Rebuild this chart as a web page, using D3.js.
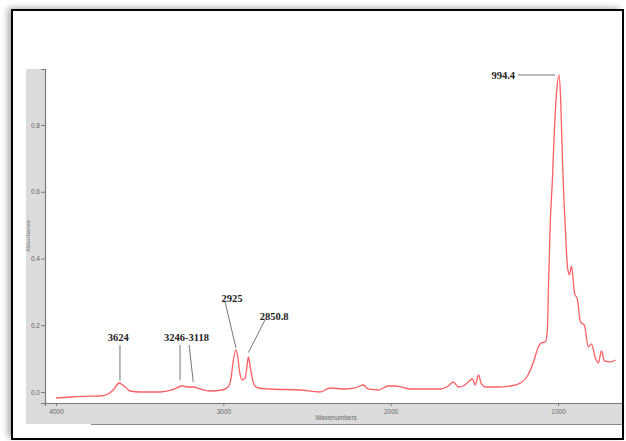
<!DOCTYPE html>
<html>
<head>
<meta charset="utf-8">
<script src="https://cdn.jsdelivr.net/npm/d3@7"></script>
<style>
  html, body { margin: 0; padding: 0; background: #fff; }
  svg { display: block; }
</style>
</head>
<body>
<svg id="chart" width="626" height="441"></svg>
<script>
// FTIR absorbance spectrum (wavenumber in cm-1, absorbance)
const wavenumbers = [4000, 3916, 3827, 3737, 3689, 3653, 3624, 3594, 3558, 3498, 3378, 3307,
  3246, 3217, 3180, 3139, 3080, 3008, 2972, 2954, 2942, 2925, 2914, 2903, 2888, 2870, 2858,
  2850.8, 2838, 2816, 2792, 2721, 2541, 2422, 2362, 2272, 2213, 2165, 2135, 2075, 2015, 1973,
  1884, 1704, 1656, 1626, 1596, 1566, 1530, 1512, 1494, 1476, 1458, 1434, 1375, 1285, 1225,
  1183, 1147, 1118, 1100, 1076, 1064, 1058, 1046, 1034, 1022, 1010, 994.4, 984, 974, 965, 956,
  944, 932, 920, 902, 884, 866, 843, 819, 801, 777, 759, 741, 723, 687, 657];
const absorbance = [-0.018, -0.015, -0.013, -0.012, -0.006, 0.009, 0.027, 0.018, 0.003, 0.0, 0.0, 0.006,
  0.018, 0.015, 0.015, 0.009, 0.003, 0.006, 0.015, 0.042, 0.09, 0.126, 0.105, 0.06, 0.036, 0.042, 0.081,
  0.105, 0.07, 0.021, 0.012, 0.009, 0.006, 0.0, 0.012, 0.009, 0.012, 0.021, 0.009, 0.006, 0.018, 0.018,
  0.009, 0.009, 0.018, 0.030, 0.015, 0.018, 0.033, 0.039, 0.021, 0.051, 0.024, 0.015, 0.015, 0.018, 0.027,
  0.048, 0.09, 0.135, 0.147, 0.150, 0.186, 0.306, 0.515, 0.635, 0.785, 0.89, 0.95, 0.87, 0.695, 0.575, 0.485,
  0.375, 0.351, 0.378, 0.297, 0.276, 0.21, 0.20, 0.135, 0.144, 0.102, 0.087, 0.123, 0.093, 0.090, 0.096];

const xTicks = [4000, 3000, 2000, 1000];
const yTicks = [0.0, 0.2, 0.4, 0.6, 0.8];
const xTitle = "Wavenumbers";
const yTitle = "Absorbance";

// Peak call-outs: label text, label anchor (wavenumber, absorbance), pointer segments
const callouts = [
  { text: "3624", lx: 3629, ly: 0.165, pointers: [[3618, 0.141, 3618, 0.034]] },
  { text: "3246-3118", lx: 3220, ly: 0.165, pointers: [[3259, 0.141, 3259, 0.036], [3205, 0.141, 3180, 0.030]] },
  { text: "2925", lx: 2948, ly: 0.282, pointers: [[2990, 0.270, 2925, 0.132]] },
  { text: "2850.8", lx: 2697, ly: 0.228, pointers: [[2751, 0.216, 2850.8, 0.118]] }
];
const topPeak = { text: "994.4", w: 994.4, a: 0.95 };

const svg = d3.select("#chart");

// drop shadow for the framed figure
const defs = svg.append("defs");
const f = defs.append("filter").attr("id", "shadow").attr("x", "-5%").attr("y", "-5%").attr("width", "110%").attr("height", "110%");
f.append("feDropShadow").attr("dx", -4).attr("dy", -2).attr("stdDeviation", 3)
  .attr("flood-color", "#000").attr("flood-opacity", 0.35);

svg.append("rect").attr("x", 12).attr("y", 10).attr("width", 611).attr("height", 429)
  .attr("fill", "#fff").attr("filter", "url(#shadow)");

const plot = { left: 45, right: 622, top: 69, bottom: 403 };

// grey axis panel
svg.append("rect").attr("x", 26).attr("y", plot.top)
  .attr("width", plot.right - 26).attr("height", 424 - plot.top).attr("fill", "#dcdcdc");
svg.append("rect").attr("x", plot.left).attr("y", plot.top)
  .attr("width", plot.right - plot.left).attr("height", plot.bottom - plot.top).attr("fill", "#fff");
svg.append("line").attr("x1", 91).attr("x2", plot.right).attr("y1", 424.5).attr("y2", 424.5)
  .attr("stroke", "#8a8a8a").attr("stroke-width", 1.2);

const x = d3.scaleLinear().domain([4066, 618]).range([plot.left, plot.right]);
const y = d3.scaleLinear().domain([-0.033, 0.968]).range([plot.bottom, plot.top]);

// axes
const yAxis = svg.append("g").attr("transform", `translate(${plot.left},0)`)
  .call(d3.axisLeft(y).tickValues(yTicks).tickFormat(d3.format(".1f")).tickSize(4).tickPadding(1));
const xAxis = svg.append("g").attr("transform", `translate(0,${plot.bottom})`)
  .call(d3.axisBottom(x).tickValues(xTicks).tickFormat(d3.format("d")).tickSize(3).tickPadding(3));
[yAxis, xAxis].forEach(g => {
  g.select(".domain").attr("stroke", "#7a7a7a").attr("stroke-width", 1.2);
  g.selectAll(".tick line").attr("stroke", "#7a7a7a");
  g.selectAll(".tick text").attr("fill", "#666").attr("font-family", "Liberation Sans, Arial, sans-serif")
    .attr("font-size", 6.5);
});

svg.append("text").attr("x", 336).attr("y", 420)
  .attr("text-anchor", "middle").attr("font-family", "Liberation Sans, Arial, sans-serif")
  .attr("font-size", 6.5).attr("fill", "#666").text(xTitle);
svg.append("text").attr("transform", "translate(30,236) rotate(-90)")
  .attr("text-anchor", "middle").attr("font-family", "Liberation Sans, Arial, sans-serif")
  .attr("font-size", 6).attr("fill", "#777").text(yTitle);

// spectrum
const pts = wavenumbers.map((w, i) => [w, absorbance[i]]);
const line = d3.line().x(d => x(d[0])).y(d => y(d[1])).curve(d3.curveMonotoneX);
svg.append("path").datum(pts.slice().reverse())
  .attr("d", line).attr("fill", "none")
  .attr("stroke", "#ff5e62").attr("stroke-width", 1.3).attr("stroke-linejoin", "round");

// call-outs
const labelFont = "Liberation Serif, Times New Roman, serif";
callouts.forEach(c => {
  svg.append("text").attr("x", x(c.lx)).attr("y", y(c.ly)).attr("dy", "0.35em")
    .attr("text-anchor", "middle").attr("font-family", labelFont).attr("font-weight", "bold")
    .attr("font-size", 10.5).attr("fill", "#222").text(c.text);
  c.pointers.forEach(p => {
    svg.append("line").attr("x1", x(p[0])).attr("y1", y(p[1])).attr("x2", x(p[2])).attr("y2", y(p[3]))
      .attr("stroke", "#777").attr("stroke-width", 1);
  });
});
const px = x(topPeak.w), py = y(topPeak.a);
svg.append("text").attr("x", px - 44).attr("y", py).attr("dy", "0.35em")
  .attr("text-anchor", "end").attr("font-family", labelFont).attr("font-weight", "bold")
  .attr("font-size", 10.5).attr("fill", "#222").text(topPeak.text);
svg.append("line").attr("x1", px - 41).attr("x2", px - 4).attr("y1", py).attr("y2", py)
  .attr("stroke", "#777").attr("stroke-width", 1);

// frame border
svg.append("rect").attr("x", 12).attr("y", 10).attr("width", 611).attr("height", 429)
  .attr("fill", "none").attr("stroke", "#000").attr("stroke-width", 2);
</script>
</body>
</html>
